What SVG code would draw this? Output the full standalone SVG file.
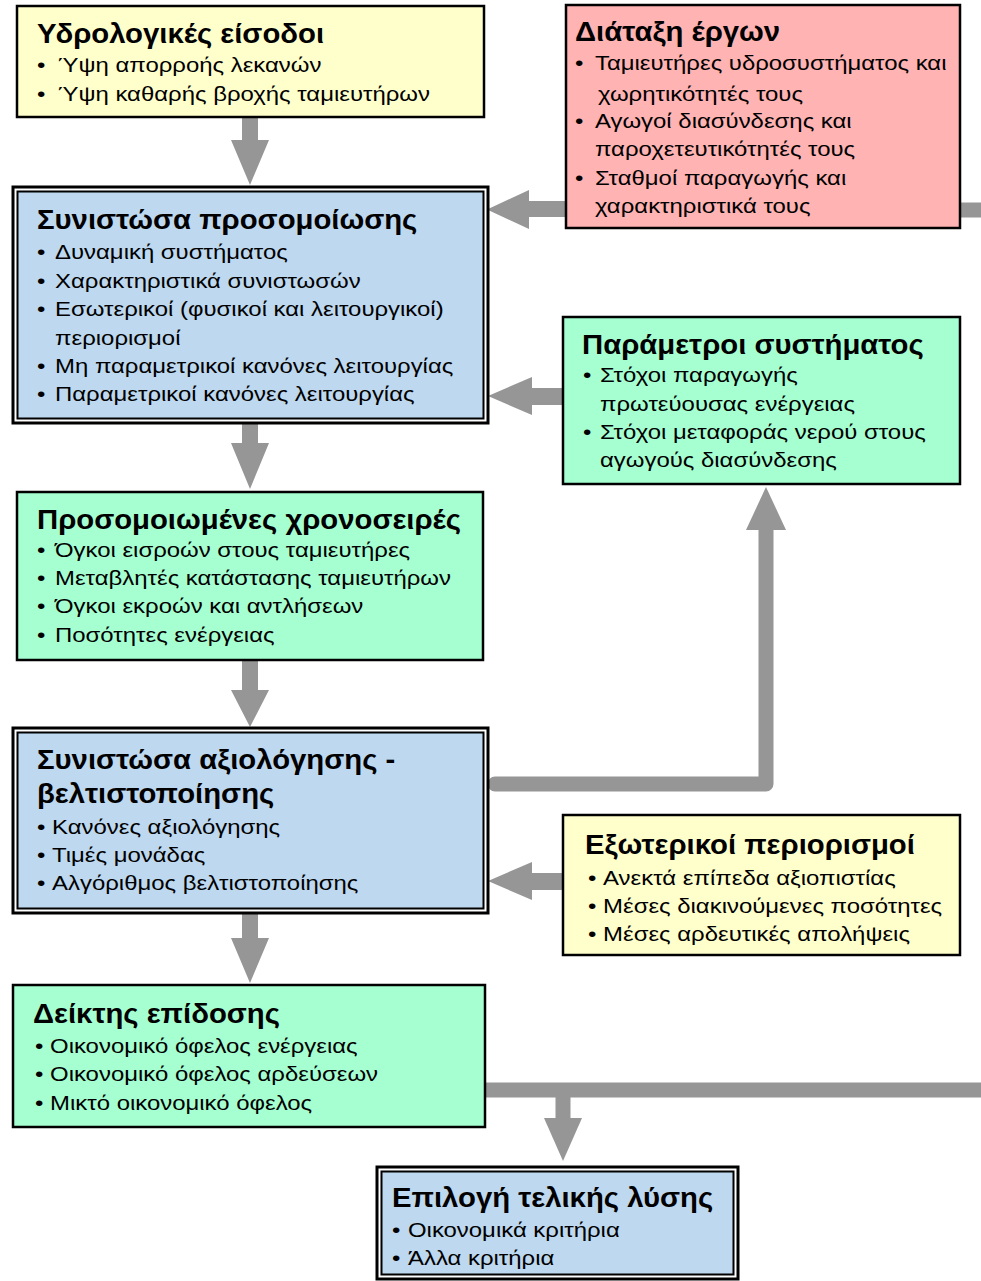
<svg xmlns="http://www.w3.org/2000/svg" width="981" height="1281" viewBox="0 0 981 1281">
<style>
text{font-family:"Liberation Sans",Arial,sans-serif;fill:#000}
.t{font-size:27px;font-weight:bold}
.b{font-size:21px}
.box{stroke:#000;stroke-width:2.5}
.outer{fill:#fff;stroke:#000;stroke-width:3}
.inner{stroke:#000;stroke-width:2}
.yel{fill:#FFFFCC}
.pink{fill:#FFB3B3}
.blue{fill:#BDD8EF}
.green{fill:#A6FFD1}
.arr{fill:#969696}
.ln{fill:none;stroke:#969696;stroke-width:15}
</style>
<rect width="981" height="1281" fill="#fff"/>
<g id="connectors">
<polygon class="arr" points="242,117 258,117 258,140 269,140 250,185 231,140 242,140"/>
<polygon class="arr" points="242,423 258,423 258,443 269,443 250,489 231,443 242,443"/>
<polygon class="arr" points="242,660 258,660 258,690 269,690 250,727 231,690 242,690"/>
<polygon class="arr" points="242,913 258,913 258,938 269,938 250,983 231,938 242,938"/>
<polygon class="arr" points="567,201 567,217 529,217 529,229 487,209.5 529,190 529,201"/>
<polygon class="arr" points="564,388 564,405 532,405 532,415 488,396 532,377 532,388"/>
<polygon class="arr" points="564,873 564,890 532,890 532,900 488,881 532,862 532,873"/>
<path class="ln" d="M495,784 H766 V525" stroke-linecap="round" stroke-linejoin="round"/>
<polygon class="arr" points="746,530 786,530 766,487"/>
<path class="ln" d="M961,210 H995" stroke-width="16" stroke-linecap="round"/>
<path class="ln" d="M486,1090 H990 M563,1090 V1120"/>
<polygon class="arr" points="544,1118 582,1118 563,1161"/>
</g>
<g id="hydro">
<rect class="box yel" x="17" y="6" width="467" height="111"/>
<g transform="matrix(1.085,0,0,1,-3.145,0)"><text class="t" x="37" y="43">Υδρολογικές είσοδοι</text></g>
<g transform="matrix(1.14,0,0,1,-5.18,0)">
<text class="b" y="72"><tspan x="37">•</tspan><tspan x="55.4">Ύψη απορροής λεκανών</tspan></text>
<text class="b" y="101"><tspan x="37">•</tspan><tspan x="55.4">Ύψη καθαρής βροχής ταμιευτήρων</tspan></text>
</g>
</g>
<g id="layout">
<rect class="box pink" x="566" y="5" width="394" height="223"/>
<g transform="matrix(1.085,0,0,1,-48.875,0)"><text class="t" x="575" y="41">Διάταξη έργων</text></g>
<g transform="matrix(1.14,0,0,1,-80.5,0)">
<text class="b" y="70"><tspan x="575">•</tspan><tspan x="592.5">Ταμιευτήρες υδροσυστήματος και</tspan></text>
<text class="b" x="595.2" y="101">χωρητικότητές τους</text>
<text class="b" y="128"><tspan x="575">•</tspan><tspan x="592.5">Αγωγοί διασύνδεσης και</tspan></text>
<text class="b" x="592.5" y="156">παροχετευτικότητές τους</text>
<text class="b" y="185"><tspan x="575">•</tspan><tspan x="592.5">Σταθμοί παραγωγής και</tspan></text>
<text class="b" x="592.5" y="213">χαρακτηριστικά τους</text>
</g>
</g>
<g id="simulation">
<rect class="outer" x="13" y="187" width="475" height="236"/>
<rect class="inner blue" x="17.5" y="191.5" width="466" height="227"/>
<g transform="matrix(1.085,0,0,1,-3.145,0)"><text class="t" x="37" y="229">Συνιστώσα προσομοίωσης</text></g>
<g transform="matrix(1.14,0,0,1,-5.18,0)">
<text class="b" y="259"><tspan x="37">•</tspan><tspan x="52.8">Δυναμική συστήματος</tspan></text>
<text class="b" y="288"><tspan x="37">•</tspan><tspan x="52.8">Χαρακτηριστικά συνιστωσών</tspan></text>
<text class="b" y="316"><tspan x="37">•</tspan><tspan x="52.8">Εσωτερικοί (φυσικοί και λειτουργικοί)</tspan></text>
<text class="b" x="52.8" y="345">περιορισμοί</text>
<text class="b" y="373"><tspan x="37">•</tspan><tspan x="52.8">Μη παραμετρικοί κανόνες λειτουργίας</tspan></text>
<text class="b" y="401"><tspan x="37">•</tspan><tspan x="52.8">Παραμετρικοί κανόνες λειτουργίας</tspan></text>
</g>
</g>
<g id="parameters">
<rect class="box green" x="563" y="317" width="397" height="167"/>
<g transform="matrix(1.085,0,0,1,-49.47,0)"><text class="t" x="582" y="354">Παράμετροι συστήματος</text></g>
<g transform="matrix(1.14,0,0,1,-81.62,0)">
<text class="b" y="382"><tspan x="583">•</tspan><tspan x="597.9">Στόχοι παραγωγής</tspan></text>
<text class="b" x="597.9" y="411">πρωτεύουσας ενέργειας</text>
<text class="b" y="439"><tspan x="583">•</tspan><tspan x="597.9">Στόχοι μεταφοράς νερού στους</tspan></text>
<text class="b" x="597.9" y="467">αγωγούς διασύνδεσης</text>
</g>
</g>
<g id="timeseries">
<rect class="box green" x="17" y="492" width="466" height="168"/>
<g transform="matrix(1.085,0,0,1,-3.145,0)"><text class="t" x="37" y="529">Προσομοιωμένες χρονοσειρές</text></g>
<g transform="matrix(1.14,0,0,1,-5.18,0)">
<text class="b" y="557"><tspan x="37">•</tspan><tspan x="52.8">Όγκοι εισροών στους ταμιευτήρες</tspan></text>
<text class="b" y="585"><tspan x="37">•</tspan><tspan x="52.8">Μεταβλητές κατάστασης ταμιευτήρων</tspan></text>
<text class="b" y="613"><tspan x="37">•</tspan><tspan x="52.8">Όγκοι εκροών και αντλήσεων</tspan></text>
<text class="b" y="642"><tspan x="37">•</tspan><tspan x="52.8">Ποσότητες ενέργειας</tspan></text>
</g>
</g>
<g id="evaluation">
<rect class="outer" x="13" y="728" width="475" height="185"/>
<rect class="inner blue" x="17.5" y="732.5" width="466" height="176"/>
<g transform="matrix(1.085,0,0,1,-3.145,0)">
<text class="t" x="37" y="769">Συνιστώσα αξιολόγησης -</text>
<text class="t" x="37" y="803">βελτιστοποίησης</text>
</g>
<g transform="matrix(1.14,0,0,1,-5.18,0)">
<text class="b" y="834"><tspan x="37">•</tspan><tspan x="50.2">Κανόνες αξιολόγησης</tspan></text>
<text class="b" y="862"><tspan x="37">•</tspan><tspan x="50.2">Τιμές μονάδας</tspan></text>
<text class="b" y="890"><tspan x="37">•</tspan><tspan x="50.2">Αλγόριθμος βελτιστοποίησης</tspan></text>
</g>
</g>
<g id="constraints">
<rect class="box yel" x="563" y="815" width="397" height="140"/>
<g transform="matrix(1.085,0,0,1,-49.725,0)"><text class="t" x="585" y="854">Εξωτερικοί περιορισμοί</text></g>
<g transform="matrix(1.14,0,0,1,-82.32,0)">
<text class="b" y="885"><tspan x="588">•</tspan><tspan x="601.2">Ανεκτά επίπεδα αξιοπιστίας</tspan></text>
<text class="b" y="913"><tspan x="588">•</tspan><tspan x="601.2">Μέσες διακινούμενες ποσότητες</tspan></text>
<text class="b" y="941"><tspan x="588">•</tspan><tspan x="601.2">Μέσες αρδευτικές απολήψεις</tspan></text>
</g>
</g>
<g id="performance">
<rect class="box green" x="13" y="985" width="472" height="142"/>
<g transform="matrix(1.085,0,0,1,-2.805,0)"><text class="t" x="33" y="1023">Δείκτης επίδοσης</text></g>
<g transform="matrix(1.14,0,0,1,-4.9,0)">
<text class="b" y="1053"><tspan x="35">•</tspan><tspan x="48.2">Οικονομικό όφελος ενέργειας</tspan></text>
<text class="b" y="1081"><tspan x="35">•</tspan><tspan x="48.2">Οικονομικό όφελος αρδεύσεων</tspan></text>
<text class="b" y="1110"><tspan x="35">•</tspan><tspan x="48.2">Μικτό οικονομικό όφελος</tspan></text>
</g>
</g>
<g id="selection">
<rect class="outer" x="377" y="1167" width="361" height="112"/>
<rect class="inner blue" x="381.5" y="1171.5" width="352" height="103"/>
<g transform="matrix(1.085,0,0,1,-33.32,0)"><text class="t" x="392" y="1207">Επιλογή τελικής λύσης</text></g>
<g transform="matrix(1.14,0,0,1,-54.88,0)">
<text class="b" y="1237"><tspan x="392">•</tspan><tspan x="406">Οικονομικά κριτήρια</tspan></text>
<text class="b" y="1265"><tspan x="392">•</tspan><tspan x="406">Άλλα κριτήρια</tspan></text>
</g>
</g>
</svg>
